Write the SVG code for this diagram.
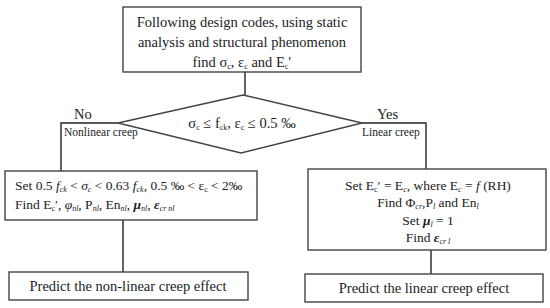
<svg xmlns="http://www.w3.org/2000/svg" width="550" height="308" viewBox="0 0 550 308">
<style>
.box{fill:#fff;stroke:#444;stroke-width:1.4}
.ln{fill:none;stroke:#222;stroke-width:1.4}
text{font-family:"Liberation Serif","Times New Roman",serif;fill:#222}
.t{font-size:14.5px}
.m{font-size:13.5px}
.s{font-size:11.5px}
.sub{font-size:8px;baseline-shift:-2px}
.i{font-style:italic}
</style>
<rect width="550" height="308" fill="#fff"/>
<g id="connectors">
<path class="ln" d="M245 72 V95"/>
<path class="ln" d="M118 123 H61 V171"/>
<path class="ln" d="M362 123 H426 V169"/>
<path class="ln" d="M123 220 V272"/>
<path class="ln" d="M431 250 V274"/>
</g>
<g id="start">
<rect class="box" x="123" y="7" width="238" height="65"/>
<text class="t" text-anchor="middle" x="242" y="27">Following design codes, using static</text>
<text class="t" text-anchor="middle" x="242" y="47">analysis and structural phenomenon</text>
<text class="t" text-anchor="middle" x="242" y="67">find σ<tspan class="sub">c</tspan>, ε<tspan class="sub">c</tspan> and E<tspan class="sub">c</tspan>′</text>
</g>
<g id="decision">
<polygon class="box" points="243,95 362,123 241,153 118,123"/>
<text class="t" text-anchor="middle" x="242" y="128">σ<tspan class="sub">c</tspan> ≤ f<tspan class="sub">ck</tspan>,  ε<tspan class="sub">c</tspan>  ≤ 0.5 ‰</text>
</g>
<g id="labels">
<text class="t" x="74" y="119">No</text>
<text class="s" x="64" y="136">Nonlinear creep</text>
<text class="t" x="377" y="119">Yes</text>
<text class="s" x="362" y="136">Linear creep</text>
</g>
<g id="nonlinear">
<rect class="box" x="5" y="171" width="252" height="49"/>
<text class="m" x="15" y="190">Set 0.5 <tspan class="i">f</tspan><tspan class="sub i">ck</tspan> &lt; <tspan class="i">σ</tspan><tspan class="sub i">c</tspan> &lt; 0.63 <tspan class="i">f</tspan><tspan class="sub i">ck</tspan>, 0.5 ‰ &lt; ε<tspan class="sub">c</tspan> &lt; 2‰</text>
<text class="m" x="15" y="209">Find E<tspan class="sub">c</tspan>′, <tspan class="i">φ</tspan><tspan class="sub i">nl</tspan>, P<tspan class="sub i">nl</tspan>, En<tspan class="sub i">nl</tspan>, <tspan class="i" font-weight="bold">μ</tspan><tspan class="sub i">nl</tspan>, <tspan class="i" font-weight="bold">ε</tspan><tspan class="sub i">cr nl</tspan></text>
</g>
<g id="linear">
<rect class="box" x="308" y="169" width="238" height="81"/>
<text class="m" text-anchor="middle" x="428" y="190">Set E<tspan class="sub">c</tspan>′ = E<tspan class="sub i">c</tspan>, where E<tspan class="sub i">c</tspan> = <tspan class="i">f</tspan> (RH)</text>
<text class="m" text-anchor="middle" x="428" y="207">Find Φ<tspan class="sub i">cr</tspan>,P<tspan class="sub i">l</tspan> and En<tspan class="sub i">l</tspan></text>
<text class="m" text-anchor="middle" x="428" y="225">Set <tspan class="i" font-weight="bold">μ</tspan><tspan class="sub i">l</tspan> = 1</text>
<text class="m" text-anchor="middle" x="428" y="242">Find <tspan class="i" font-weight="bold">ε</tspan><tspan class="sub i">cr l</tspan></text>
</g>
<g id="predict-nonlinear">
<rect class="box" x="9" y="272" width="239" height="28"/>
<text class="t" text-anchor="middle" x="128" y="291">Predict the non-linear creep effect</text>
</g>
<g id="predict-linear">
<rect class="box" x="305" y="274" width="238" height="28"/>
<text class="t" text-anchor="middle" x="424" y="293">Predict the linear creep effect</text>
</g>
</svg>
